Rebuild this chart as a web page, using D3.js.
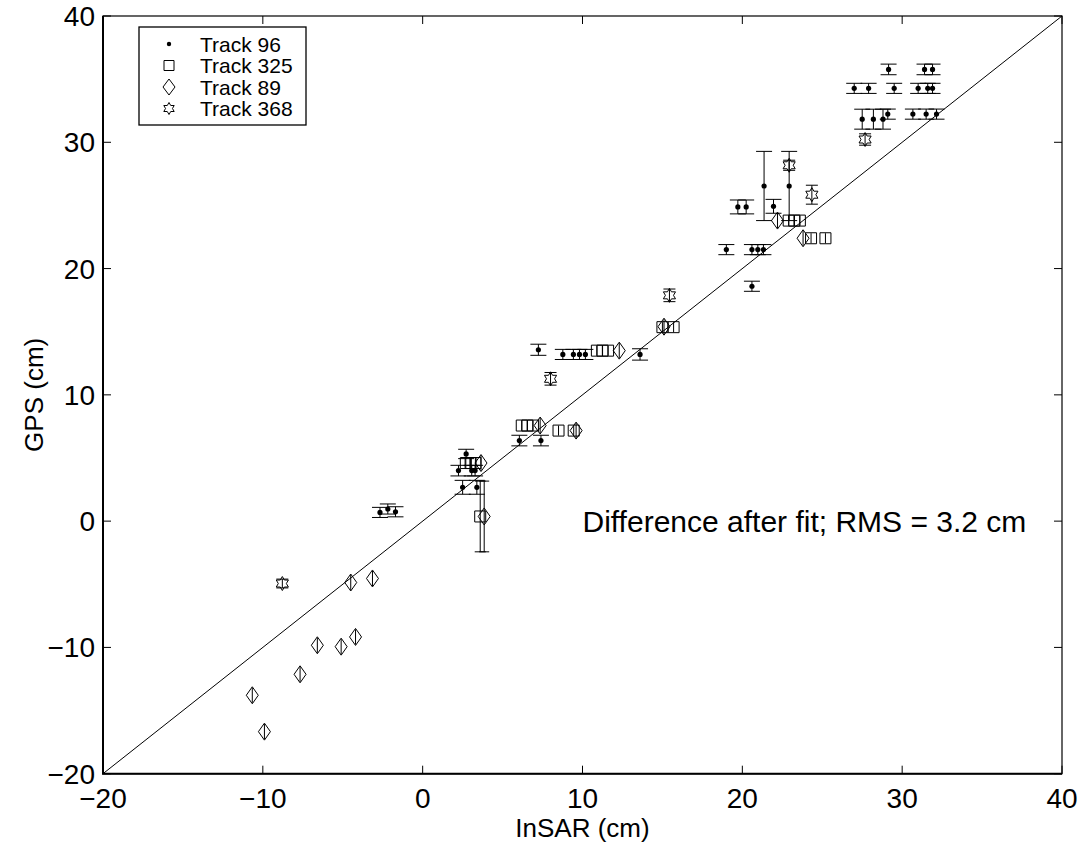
<!DOCTYPE html>
<html>
<head>
<meta charset="utf-8">
<script src="https://cdn.jsdelivr.net/npm/d3@7"></script>
<style>
  body { margin: 0; background: #fff; }
  text { font-family: "Liberation Sans", Arial, Helvetica, sans-serif; }
</style>
</head>
<body>
<div class="chart"></div>
<script>
// data 
const xTicks = [-20, -10, 0, 10, 20, 30, 40]
const yTicks = [-20, -10, 0, 10, 20, 30, 40]

// track 96 (dots)
const t96X = [29.15, 31.4, 31.9, 27.0, 27.9, 29.5, 31.0, 31.6, 31.9, 27.5, 28.2, 28.8, 29.1, 30.67, 31.5, 32.15,
    21.36, 22.93, 19.72, 20.24, 21.95, 19.0, 20.6, 20.97, 21.32, 20.6, 13.6, 7.24, 8.77, 9.43, 9.81, 10.18,
    6.05, 7.4, 2.72, 2.24, 3.07, 3.28, 2.5, 3.39, -2.67, -2.18, -1.7]
const t96Y = [35.77, 35.77, 35.77, 34.27, 34.27, 34.27, 34.27, 34.27, 34.27, 31.83, 31.83, 31.83, 32.23, 32.23, 32.23, 32.23,
    26.54, 26.54, 24.88, 24.88, 24.93, 21.5, 21.5, 21.5, 21.5, 18.6, 13.2, 13.57, 13.2, 13.2, 13.2, 13.2,
    6.38, 6.38, 5.32, 4.0, 4.0, 4.0, 2.68, 2.68, 0.69, 0.96, 0.74]
const t96Err = [0.42, 0.42, 0.42, 0.4, 0.4, 0.4, 0.4, 0.4, 0.4, 0.79, 0.79, 0.79, 0.4, 0.4, 0.4, 0.4,
    2.74, 2.74, 0.55, 0.55, 0.55, 0.4, 0.4, 0.4, 0.4, 0.4, 0.45, 0.44, 0.4, 0.4, 0.4, 0.4,
    0.42, 0.42, 0.37, 0.42, 0.42, 0.42, 0.55, 0.55, 0.4, 0.4, 0.4]

// track 325 (squares)
const t325X = [24.3, 25.2, 22.9, 23.25, 23.6, 15.0, 15.7, 10.9, 11.25, 11.6, 6.2, 6.55, 6.9, 8.5, 9.45, 2.7, 3.0, 3.3, 3.6]
const t325Y = [22.4, 22.4, 23.8, 23.8, 23.8, 15.36, 15.36, 13.5, 13.5, 13.5, 7.57, 7.57, 7.57, 7.17, 7.17, 4.6, 4.6, 4.6, 0.37]
const t325Err = [0.4, 0.4, 0.4, 0.4, 0.4, 0.4, 0.4, 0.4, 0.4, 0.4, 0.4, 0.4, 0.4, 0.4, 0.4, 0.4, 0.4, 0.4, 2.8]

// track 89 (diamonds)
const t89X = [22.2, 23.8, 15.1, 12.3, 7.35, 9.6, 3.65, 3.85, -4.5, -3.14, -6.59, -5.1, -4.2, -7.67, -10.66, -9.9]
const t89Y = [23.8, 22.4, 15.4, 13.5, 7.57, 7.17, 4.6, 0.37, -4.86, -4.54, -9.83, -9.94, -9.17, -12.13, -13.79, -16.67]
const t89Err = [0.6, 0.6, 0.6, 0.6, 0.6, 0.6, 0.6, 2.8, 0.6, 0.6, 0.6, 0.6, 0.6, 0.6, 0.6, 0.6]

// track 368 (hexagrams)
const t368X = [27.68, 24.35, 22.93, 15.44, 8.0, -8.78]
const t368Y = [30.22, 25.85, 28.18, 17.88, 11.27, -4.94]
const t368Err = [0.45, 0.75, 0.4, 0.5, 0.5, 0.35]

const legendNames = ["Track 96", "Track 325", "Track 89", "Track 368"]
const noteText = "Difference after fit; RMS = 3.2 cm"

// svg 
const width = 1089
const height = 847
const margin = ({ top: 16, right: 27, bottom: 74, left: 103 })

const svg = d3.select(".chart")
    .append("svg")
    .attr("width", width)
    .attr("height", height)

svg.append("rect").attr("width", width).attr("height", height).attr("fill", "#fff")

// scales
const xScale = d3.scaleLinear()
    .domain([-20, 40])
    .range([margin.left, width - margin.right])

const yScale = d3.scaleLinear()
    .domain([-20, 40])
    .range([height - margin.bottom + 0.7, margin.top])

const x0 = xScale.range()[0], x1 = xScale.range()[1]
const y0 = yScale.range()[0], y1 = yScale.range()[1]

// 1:1 line
svg.append("line")
    .attr("x1", xScale(-20)).attr("y1", yScale(-20))
    .attr("x2", xScale(40)).attr("y2", yScale(40))
    .attr("stroke", "#000").attr("stroke-width", 1)

// symbol shapes
function hexagram(r) {
    const pts = []
    for (let i = 0; i < 12; i++) {
        const a = Math.PI / 2 + i * Math.PI / 6
        const rr = i % 2 === 0 ? r : r / Math.sqrt(3)
        pts.push([rr * Math.cos(a), -rr * Math.sin(a)])
    }
    return "M" + pts.map(p => p.join(",")).join("L") + "Z"
}
function diamond(w, h) {
    return `M0,${-h / 2}L${w / 2},0L0,${h / 2}L${-w / 2},0Z`
}
function square(s) {
    return `M${-s / 2},${-s / 2}H${s / 2}V${s / 2}H${-s / 2}Z`
}

const tracks = [
    { x: t96X, y: t96Y, err: t96Err, kind: "dot", half: 2.5, cap: 16 },
    { x: t325X, y: t325Y, err: t325Err, kind: "square", half: 6, cap: 11 },
    { x: t89X, y: t89Y, err: t89Err, kind: "diamond", half: 8.5, cap: 10 },
    { x: t368X, y: t368Y, err: t368Err, kind: "star", half: 3, cap: 12 }
]

const markGroup = svg.append("g")

tracks.forEach(tr => {
    const pts = tr.x.map((d, i) => ({ x: d, y: tr.y[i], e: tr.err[i] }))
    const g = markGroup.append("g")

    // error bars
    g.selectAll("line.bar")
        .data(pts)
        .join("line")
        .attr("class", "bar")
        .attr("x1", d => xScale(d.x)).attr("x2", d => xScale(d.x))
        .attr("y1", d => yScale(d.y + d.e)).attr("y2", d => yScale(d.y - d.e))
        .attr("stroke", "#000").attr("stroke-width", 1)

    // caps only where the bar sticks out of the marker
    const capped = pts.filter(d => yScale(d.y - d.e) - yScale(d.y) > tr.half)
    ;[1, -1].forEach(s => {
        g.selectAll("line.cap" + s)
            .data(capped)
            .join("line")
            .attr("x1", d => xScale(d.x) - tr.cap / 2).attr("x2", d => xScale(d.x) + tr.cap / 2)
            .attr("y1", d => yScale(d.y + s * d.e)).attr("y2", d => yScale(d.y + s * d.e))
            .attr("stroke", "#000").attr("stroke-width", 1)
    })

    // markers
    if (tr.kind === "dot") {
        g.selectAll("circle")
            .data(pts)
            .join("circle")
            .attr("cx", d => xScale(d.x)).attr("cy", d => yScale(d.y))
            .attr("r", 2.6).attr("fill", "#000")
    } else {
        const shape = tr.kind === "square" ? square(11) : tr.kind === "diamond" ? diamond(12, 17) : hexagram(7)
        g.selectAll("path")
            .data(pts)
            .join("path")
            .attr("transform", d => `translate(${xScale(d.x)},${yScale(d.y)})`)
            .attr("d", shape)
            .attr("fill", "none").attr("stroke", "#000").attr("stroke-width", 1)
    }
})

// frame (left and bottom a bit heavier)
svg.append("rect")
    .attr("x", x0).attr("y", y1)
    .attr("width", x1 - x0).attr("height", y0 - y1)
    .attr("fill", "none").attr("stroke", "#000").attr("stroke-width", 1.2)
svg.append("path")
    .attr("d", `M${x0},${y1}V${y0}H${x1}`)
    .attr("fill", "none").attr("stroke", "#000").attr("stroke-width", 2)

// ticks on all four sides
const tickLen = 8
const tickG = svg.append("g").attr("stroke", "#000").attr("stroke-width", 1)
xTicks.forEach(t => {
    tickG.append("line").attr("x1", xScale(t)).attr("x2", xScale(t)).attr("y1", y0).attr("y2", y0 - tickLen)
    tickG.append("line").attr("x1", xScale(t)).attr("x2", xScale(t)).attr("y1", y1).attr("y2", y1 + tickLen)
})
yTicks.forEach(t => {
    tickG.append("line").attr("y1", yScale(t)).attr("y2", yScale(t)).attr("x1", x0).attr("x2", x0 + tickLen)
    tickG.append("line").attr("y1", yScale(t)).attr("y2", yScale(t)).attr("x1", x1).attr("x2", x1 - tickLen)
})

// tick labels
const fmt = d => d < 0 ? "\u2212" + Math.abs(d) : String(d)
svg.append("g")
    .selectAll("text")
    .data(xTicks)
    .join("text")
    .attr("x", d => xScale(d))
    .attr("y", y0 + 34)
    .attr("text-anchor", "middle")
    .attr("font-size", 28)
    .text(fmt)

svg.append("g")
    .selectAll("text")
    .data(yTicks)
    .join("text")
    .attr("x", x0 - 8)
    .attr("y", d => yScale(d) + 10)
    .attr("text-anchor", "end")
    .attr("font-size", 28)
    .text(fmt)

// axis titles
svg.append("text")
    .attr("x", (x0 + x1) / 2)
    .attr("y", 837)
    .attr("text-anchor", "middle")
    .attr("font-size", 26)
    .text("InSAR (cm)")

svg.append("text")
    .attr("transform", `translate(43,${(y0 + y1) / 2}) rotate(-90)`)
    .attr("text-anchor", "middle")
    .attr("font-size", 26)
    .text("GPS (cm)")

// annotation
svg.append("text")
    .attr("x", xScale(10))
    .attr("y", 532)
    .attr("font-size", 30)
    .text(noteText)

// legend
const lg = svg.append("g")
lg.append("rect")
    .attr("x", 139).attr("y", 27)
    .attr("width", 167).attr("height", 98)
    .attr("fill", "#fff").attr("stroke", "#000").attr("stroke-width", 1.3)

const legendShapes = [null, square(10), diamond(12, 16), hexagram(6)]
legendNames.forEach((name, i) => {
    const cy = 44 + i * 21.5
    if (i === 0) {
        lg.append("circle").attr("cx", 169).attr("cy", cy).attr("r", 2.2).attr("fill", "#000")
    } else {
        lg.append("path")
            .attr("transform", `translate(169,${cy})`)
            .attr("d", legendShapes[i])
            .attr("fill", "none").attr("stroke", "#000").attr("stroke-width", 1)
    }
    lg.append("text")
        .attr("x", 200).attr("y", cy + 7.5)
        .attr("font-size", 21)
        .text(name)
})
</script>
</body>
</html>
